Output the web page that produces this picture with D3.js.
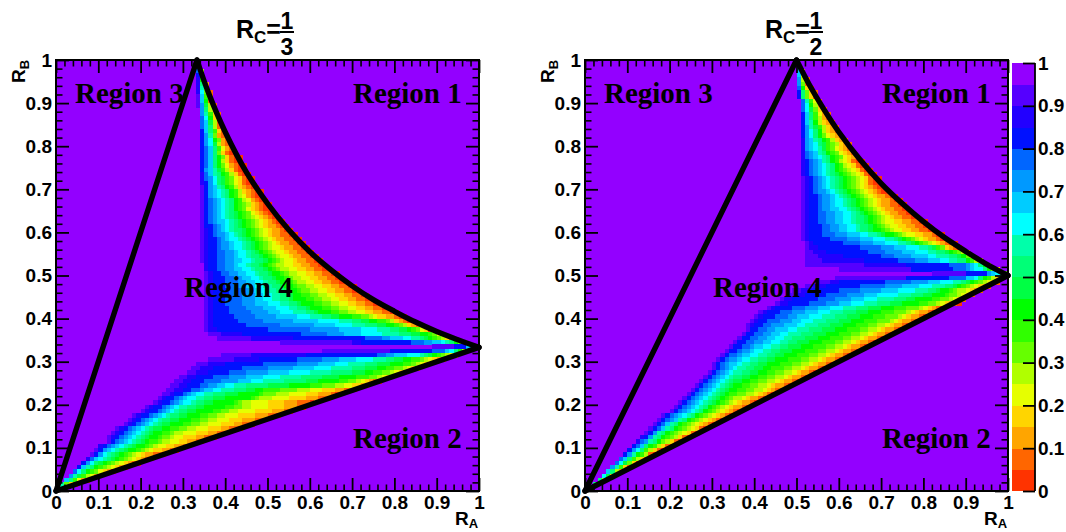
<!DOCTYPE html>
<html>
<head>
<meta charset="utf-8">
<script src="https://cdn.jsdelivr.net/npm/d3@7"></script>
<style>
    body { margin: 0; background: #fff; }
    text { font-family: "Liberation Sans", Arial, sans-serif; font-weight: bold; fill: #000; }
    .region { font-family: "Liberation Serif", "Times New Roman", serif; font-size: 29px; }
    .domain { display: none; }
</style>
</head>
<body>
<div id="chart"></div>
<script>
// colour levels, 0 to 1 in steps of 0.05
const palette = ["#ff3300", "#ff6600", "#ffa500", "#ffd500", "#e6ff00", "#b0ff00", "#66ff00", "#30ff00",
    "#00ff00", "#00ff44", "#00ff77", "#00ffaa", "#00ffff", "#00ccff", "#0099ff", "#0066ff",
    "#0011ff", "#2200ff", "#5500ff", "#9300ff"];
const levelNames = "abcdefghijklmnopqrst";

const tickVals = [0, 0.1, 0.2, 0.3, 0.4, 0.5, 0.6, 0.7, 0.8, 0.9, 1];
const minorVals = [0.02, 0.04, 0.06, 0.08, 0.12, 0.14, 0.16, 0.18, 0.22, 0.24, 0.26, 0.28, 0.32, 0.34, 0.36, 0.38,
    0.42, 0.44, 0.46, 0.48, 0.52, 0.54, 0.56, 0.58, 0.62, 0.64, 0.66, 0.68, 0.72, 0.74, 0.76, 0.78,
    0.82, 0.84, 0.86, 0.88, 0.92, 0.94, 0.96, 0.98];

// one string per histogram row, top row (0.99) first: "first column:cells", letter = level, number = repeat
const rowsThird = ["",
    "33:o", "33:pf", "33:qh", "33:ri", "33:rkc", "33:rlf", "33:rmgb", "33:snhb", "33:snib", "33:sojfb",
    "34:okfb", "34:olhdb", "34:pmidb", "34:pnjfb", "34:pnkfb", "34:qnkhdb", "34:qolgcb", "34:qomigcb",
    "34:qomjfcb", "34:qpnkhecb", "34:qpnkgdba", "34:qpnkigdba2", "34:qpnkifdba2", "34:qpnkigecba2",
    "34:qonljhfdba2", "34:rpnlkihfdba2", "34:rpomkjhgedba2", "34:rqomkjhgedba2", "34:sqonlkihfdcba2",
    "34:sqonmlkihfdcba2", "34:sqonmlkihfecba2", "34:sqponmlkihfecba2", "34:sqponmlkihgfdcba2",
    "34:sqponmlkihgedcba2", "34:sqponmlkjihgedcba2", "34:sqponmlkjihgfedcba2", "34:sqponnmlkjihgfedcba2",
    "34:sqqponmlkjihgfedc2ba2", "34:srqponmlk2jihgfedc2ba2", "34:srqpoonmlkjihgfedc2b2a2",
    "34:srqqponm2lkjihgfedc2b2a2", "34:srqqpoonm2lkjihgfedc2b2a2", "34:srqqpoonm2lkjihgfe2dc2b2a2",
    "34:srqqppoonm2lkjihgfe2dc2b2a2", "34:srq2p2o2nm2lk2jihgfe2dc2b2a2", "34:srq2p2o2n2m2lk2jihgfe2dc2b2a2",
    "35:rq2p2o2nm2lk2jihgf2e2d2c2b2a2", "35:rq2p2o2n2m2lk2jihgf2e2d2c2b2a2",
    "35:srq2p2o2n2m2lk2ji2hgf2e2d2c2b2a2", "35:srq3p2o2n2m2lk2ji2hgf2e2d2c2b2a2",
    "35:srq3p3o2n2m2lk2ji2hgf2e2d2c2b2a2", "35:srq3p3o2n2m2l2k2ji2hg2f2e2d2c2b2a2",
    "35:srq4p3o2n2m2l2k2ji2hg2f2e2d2c2b2a2", "35:srq4p3o3n2m2l2k2ji2h2g2f2e2d2c2b2a2",
    "35:srq3p4o3n2m2l2k2ji3h2g2f2e2d2c2b2a2", "35:srq3p4o3n3m3l2k2ji3h2g2f2e2d2c2b2a2",
    "35:srq4p4o4n3m3l2k2ji3h2g2f2e2d2c2b2a2", "35:srq4p5o4n3m3l3k2ji3h2g2f2e2d2c2b2a2",
    "35:srq5p5o5n5m3l3k2j2i3h2g2fed2c2ba2", "35:srq6p6o7n6m5l3k2j2i2h2gfdcba2",
    "35:srq8p8o8n5m4l3k3j2i2hgfdcba", "35:sr2q12p10o7n5m4l3k2j2ihgeda",
    "36:s3r5q14p6o4n4m5l4k3j2i2hgec", "38:s8r10q17p4o2n3m2l2kjihgfdb",
    "53:s17r2q12p3o2n2mlkige", "89:s5q3nl",
    "63:s16q10p3nmkifc", "39:s7r13q17p2o2n3m3lkjihgfec",
    "36:s6r6q9p6o4n4m4l3k2j2i2h2gfedcb", "33:s3r4q9p8o5n4m3l4k3j3i3h2gfedb",
    "32:s2r3q7p6o6n5m4l5k3j3i2h2g2fedb", "31:s2r3q5p4o5n5m5l5k5j3i2h2g2fedb",
    "29:s2r2q4p4o4n4m4l5k5j4i4h3g2fedb", "28:s2r2q3p4o4n3m3l5k5j3i5h2g2fedcba",
    "27:s2r2q3p2o2n2m2l3k5j5i5h3g3f2e2d2cb", "26:s2r2q2p2on2m2l3k3j2i2h4g4f3e3d3c2b2a",
    "25:s2rq2ponm2l2k3j3i5hg3f3e4d3c3ba", "24:srq2ponm2l2k2j3i6hgf3e4d4c3b2a",
    "23:srq2ponm2lk2j2i5hgf2e4d4c3b3a", "21:srq2ponml2k2j2i5h2g2f2e4d4c3ba",
    "20:srq2ponmlk2j2i4h2g2f2e4d4c3ba", "18:srq2ponmlk2j2i3h2g2f2e3d4c3b2a",
    "17:srqponmlk2j2i3h2g2f2e3d3c3b2a", "16:srqponmlkj2i3h2g2f2e3d3c2b2a",
    "14:srqponmlkj2i2h2g2f2e3d3c2b2a", "13:srqponmlkji2h2gf2e3d3c2b2a",
    "12:srqponmlkji2hg2fe2d3c2b2a", "12:sqponmlkjih2gf2e2d2c2ba",
    "10:rqponmlkji2hgfe2d2c2ba", "9:sqonmlkji2hgfed2c2ba",
    "8:sqomlkjihgfedc2b2a", "7:rpnmlkjihgfedcba",
    "6:qomkjihgfedcba", "5:qnlkihgfedca",
    "4:pmkihgedca", "3:oljhfeca", "2:nkheca", "1:lgda", "0:gb"];

const rowsHalf = ["",
    "50:m", "50:nd", "50:ne", "50:ofb", "50:ogb", "50:pida", "50:qkgdb", "50:qkgdb",
    "51:plheb", "51:pmifc", "51:pmjgdb", "51:qnkhecb", "51:qnkhfcb", "51:qnlifdcb",
    "51:qoljhfdcb", "51:qomkifdcb", "51:qomkigedcb", "51:ronlkihfdcb", "51:ronmkjhgfdcb", "51:ronmljhgedcb",
    "51:rponlkihgedcb", "51:rponmlkihgedcb", "51:rqponlkihfedba2", "51:rqponmlkihfedba2", "51:rqponmlkihgfedba2",
    "51:rqponmlkjihgfedba2", "51:srqponmlkjihgfedba2", "51:srqponmlkjihgfedba2", "51:srqponmlkjihgfedcba2",
    "51:srqpoonmlkjihgfedcba2", "51:srqqpoonmlkjihgfedc2ba2", "51:srqqpoonm2lkjihgfedc2ba2",
    "51:srqqpoonm2lkjihgfedc2b2a2", "51:srqqpoonnm2lkjihgfedc2b2a2", "51:srqqppoonnm2lkjihgfedc2b2a2",
    "51:srq2p2o2n2m2lk2jihgfedc2b2a2", "51:srq2p2o2n2m2lk2jihgfe2d2c2b2a2", "51:srq3p2o2n2m2lk2jihgfe2d2c2b2a2",
    "51:srq3p2o2n2m2lk2ji2hgfe2d2c2b2a2",
    "51:srq3p3o3n3m2l2kji2hgfe2d2c2ba2", "51:srq5p4o3n3m3l2kjihgfedc2ba2",
    "52:srq7p4o3n3m3l2kjihgfedcba2", "52:sr2q10p5o3n3m3l2kjhgdcba",
    "52:s2r3q10p4o4n3m3l2k2jihgfd", "52:s3r6q9p3o4n4m2l3k2jige",
    "52:s4r10q8p4o3n3m2l2k2ihfd", "52:s14r10q10p4onmkif",
    "60:s17q10p3onm2kigd", "82:s8q5onmkg",
    "59:s17q10p4n2mkihfdb", "55:s3r2q11p6o4n3m3l2kjihgfedb",
    "52:s2r3q8p6o4n4m3l3k2jihgfedcb", "49:s2r3q6p5o5n4m4l3k2ji2hgf2edcb",
    "48:s2r2q5p5o4n3m5l3k3j2i3hg2fedb", "46:sr2q6p4o4n3m3l4k3j2i4h2g2fedb",
    "45:sr2q5p4o3n3m3l3k3j3i4h2g2fedcba", "43:srq4p3o3n3m3l3k3j3i3h3g3fedcba",
    "41:srq3p3o3n3m3l3k3j3i3h3g3fedc2ba", "40:srq3p3o2n3m3l3k3j3i3h3g3fedc2ba",
    "39:srq2p3o3n2m3l3k3j3i3h3g3fedc2ba", "38:srq2p2o3n3m2l3k3j3i3h3g2f2edc2ba",
    "38:sq2p2o2n3m2l3k3j3i3h3g2f2edc2ba", "37:sq2p2o2n2m2l3k3j3i3h3g2f2edc2ba",
    "36:sq2p2o2n2m2l2k3j3i3h3g2f2edc2ba", "35:sq2p2o2n2m2l2k2j3i3h3g2f2edc2ba",
    "34:sq2p2on2m2l2k2j3i3h3g2f2edc2ba", "33:sq2po2nm2l2k2j3i3h3g2f2edc2ba",
    "32:sqp2on2m2l2k2j2i3h3g2f2edc2ba", "31:sqpo2nm2l2k2j2i3h3g2f2edc2ba",
    "30:sqpon2ml2k2j2i3h3g2f2edc2ba",
    "30:sqponml2k2j2i2h3g2f2edc2ba", "29:sqponml2k2j2i2h2g2f2edc2ba",
    "28:sqponmlk2j2i2h2g2f2edc2ba", "27:sqponmlkj2i2h2g2f2edc2ba",
    "26:sqponmlkji2h2g2f2edc2ba", "25:sqponmlkji2h2g2f2edcba",
    "24:sqponmlkjih2g2f2edcba", "23:sqponmlkjihgf2edc2ba",
    "22:sqponmlkjihgfedc2ba", "21:sqponmlkihgfedc2ba",
    "20:sqponmlkihgfedcba", "18:sqponmlkihgfedcba",
    "17:sqponlkihgfedcba", "16:sqpnlkihgfedcba",
    "15:sqpnlkihgfedba", "14:sqolkihgfedba",
    "13:rqolkihgfdba", "12:rpolkigfdba",
    "11:qpnkihfdba", "10:qomkhfdba",
    "9:qolihfba", "8:pnkhfdb",
    "7:pmjgda", "6:olhdb", "5:nkfc", "4:mjd", "3:kf", "2:k", ""];

// black boundary of each panel
const edgeThirdX = [0, 0.3333, 0.36, 0.4, 0.45, 0.5, 0.55, 0.6, 0.65, 0.7, 0.75, 0.8, 0.85, 0.9, 0.95, 1];
const edgeThirdY = [0, 1, 0.925, 0.833, 0.74, 0.667, 0.606, 0.555, 0.513, 0.476, 0.444, 0.417, 0.392, 0.37, 0.351, 0.3333];
const edgeHalfX = [0, 0.5, 0.53, 0.56, 0.6, 0.65, 0.7, 0.75, 0.8, 0.85, 0.9, 0.95, 1];
const edgeHalfY = [0, 1, 0.943, 0.893, 0.833, 0.769, 0.714, 0.667, 0.625, 0.588, 0.556, 0.526, 0.5];

const regionNames = ["Region 1", "Region 2", "Region 3", "Region 4"];

const width = 1066;
const height = 532;
const svg = d3.select("#chart").append("svg").attr("width", width).attr("height", height);

const colour = d3.scaleQuantize().domain([0, 1]).range(palette);
const y = d3.scaleLinear().domain([0, 1]).range([491, 60]);

function parseRow(str, rowIndex) {
    const cells = [];
    if (str === "") return cells;
    const parts = str.split(":");
    let col = +parts[0];
    for (const m of parts[1].matchAll(/([a-t])(\d*)/g)) {
        const n = m[2] === "" ? 1 : +m[2];
        for (let k = 0; k < n; k++) {
            cells.push({ col: col, row: rowIndex, value: (levelNames.indexOf(m[1]) + 0.5) / 20 });
            col++;
        }
    }
    return cells;
}

function drawAxis(g, axis, isMinor) {
    g.call(axis);
    g.selectAll("line").attr("stroke", "#000").attr("stroke-width", isMinor ? 1.6 : 1.8);
    g.selectAll("text").style("font-size", "19px");
}

function drawPanel(opts) {
    const x = d3.scaleLinear().domain([0, 1]).range([opts.left, opts.left + 423]);
    const p = svg.append("g");

    p.append("rect")
        .attr("x", x(0)).attr("y", y(1))
        .attr("width", x(1) - x(0)).attr("height", y(0) - y(1))
        .attr("fill", palette[19]);

    const cells = opts.rows.flatMap((s, i) => parseRow(s, 99 - i));
    p.append("g")
        .selectAll("rect")
        .data(cells)
        .enter()
        .append("rect")
        .attr("x", (d) => x(d.col / 100))
        .attr("y", (d) => y((d.row + 1) / 100))
        .attr("width", x(0.01) - x(0) + 0.4)
        .attr("height", y(0) - y(0.01) + 0.4)
        .attr("fill", (d) => colour(d.value))
        .attr("shape-rendering", "crispEdges");

    // axes on all four sides, ticks pointing inwards
    const bottom = y(0), top = y(1), right = x(1), left = x(0);
    const sides = [
        [d3.axisBottom(x), bottom, null, true],
        [d3.axisTop(x), top, null, false],
        [d3.axisLeft(y), null, left, true],
        [d3.axisRight(y), null, right, false],
    ];
    sides.forEach(([axis, ty, tx, labelled]) => {
        const pos = "translate(" + (tx === null ? 0 : tx) + "," + (ty === null ? 0 : ty) + ")";
        const major = p.append("g").attr("transform", pos);
        const isX = ty !== null;
        axis.tickValues(tickVals).tickSizeOuter(0).tickSizeInner(-13)
            .tickPadding(isX ? 5 : 4)
            .tickFormat(labelled ? d3.format("~g") : "");
        drawAxis(major, axis, false);
        const minor = p.append("g").attr("transform", pos);
        axis.tickValues(minorVals).tickSizeInner(-6.5).tickFormat("");
        drawAxis(minor, axis, true);
    });

    p.append("rect")
        .attr("x", left).attr("y", top)
        .attr("width", right - left).attr("height", bottom - top)
        .attr("fill", "none").attr("stroke", "#000").attr("stroke-width", 2);

    // boundary of the allowed region
    const pts = opts.edgeX.map((v, i) => [v, opts.edgeY[i]]);
    const curve = d3.line().x((d) => x(d[0])).y((d) => y(d[1])).curve(d3.curveCatmullRom);
    const straight = d3.line().x((d) => x(d[0])).y((d) => y(d[1]));
    p.append("path").attr("d", straight([pts[0], pts[1]]));
    p.append("path").attr("d", straight([pts[0], pts[pts.length - 1]]));
    p.append("path").attr("d", curve(pts.slice(1)));
    p.selectAll("path:not(.domain)")
        .attr("fill", "none").attr("stroke", "#000").attr("stroke-width", 5.4)
        .attr("stroke-linecap", "round").attr("stroke-linejoin", "round");

    // region labels
    const labelX = [opts.left + 297, opts.left + 297, opts.left + 19, opts.left + 128];
    const labelY = [103, 448, 103, 297];
    regionNames.forEach((name, i) => {
        p.append("text").attr("class", "region").attr("x", labelX[i]).attr("y", labelY[i]).text(name);
    });

    // axis titles
    const xt = p.append("text").attr("x", opts.left + 399).attr("y", 525).style("font-size", "19px").text("R");
    xt.append("tspan").attr("dy", 3).style("font-size", "13px").text("A");
    const yt = p.append("text")
        .attr("transform", "translate(" + (opts.left - 31) + ",83) rotate(-90)")
        .style("font-size", "19px").text("R");
    yt.append("tspan").attr("dy", 4).style("font-size", "13px").text("B");

    // title with a stacked fraction
    const tx = opts.left + 180;
    const t = p.append("text").attr("x", tx).attr("y", 38).style("font-size", "25px").text("R");
    t.append("tspan").attr("dy", 5).style("font-size", "17px").text("C");
    t.append("tspan").attr("dy", -5).text("=");
    const fx = tx + 51;
    p.append("text").attr("x", fx).attr("y", 29).attr("text-anchor", "middle").style("font-size", "23px").text("1");
    p.append("line").attr("x1", fx - 7).attr("x2", fx + 7).attr("y1", 32).attr("y2", 32)
        .attr("stroke", "#000").attr("stroke-width", 2);
    p.append("text").attr("x", fx).attr("y", 55).attr("text-anchor", "middle").style("font-size", "23px").text(opts.denom);
}

drawPanel({ left: 56, rows: rowsThird, edgeX: edgeThirdX, edgeY: edgeThirdY, denom: "3" });
drawPanel({ left: 585, rows: rowsHalf, edgeX: edgeHalfX, edgeY: edgeHalfY, denom: "2" });

// colour bar
const barScale = d3.scaleLinear().domain([0, 1]).range([491, 63]);
const bar = svg.append("g");
bar.selectAll("rect")
    .data(palette)
    .enter()
    .append("rect")
    .attr("x", 1012)
    .attr("y", (d, i) => barScale((i + 1) / 20))
    .attr("width", 23)
    .attr("height", barScale(0) - barScale(0.05) + 0.4)
    .attr("fill", (d) => d)
    .attr("shape-rendering", "crispEdges");
const barAxis = d3.axisRight(barScale).tickValues(tickVals).tickSizeOuter(0).tickSizeInner(-12)
    .tickPadding(3).tickFormat(d3.format("~g"));
const barG = bar.append("g").attr("transform", "translate(1035,0)");
drawAxis(barG, barAxis, false);
bar.append("line").attr("x1", 1035).attr("x2", 1035).attr("y1", 63).attr("y2", 491)
    .attr("stroke", "#000").attr("stroke-width", 1.8);
</script>
</body>
</html>
